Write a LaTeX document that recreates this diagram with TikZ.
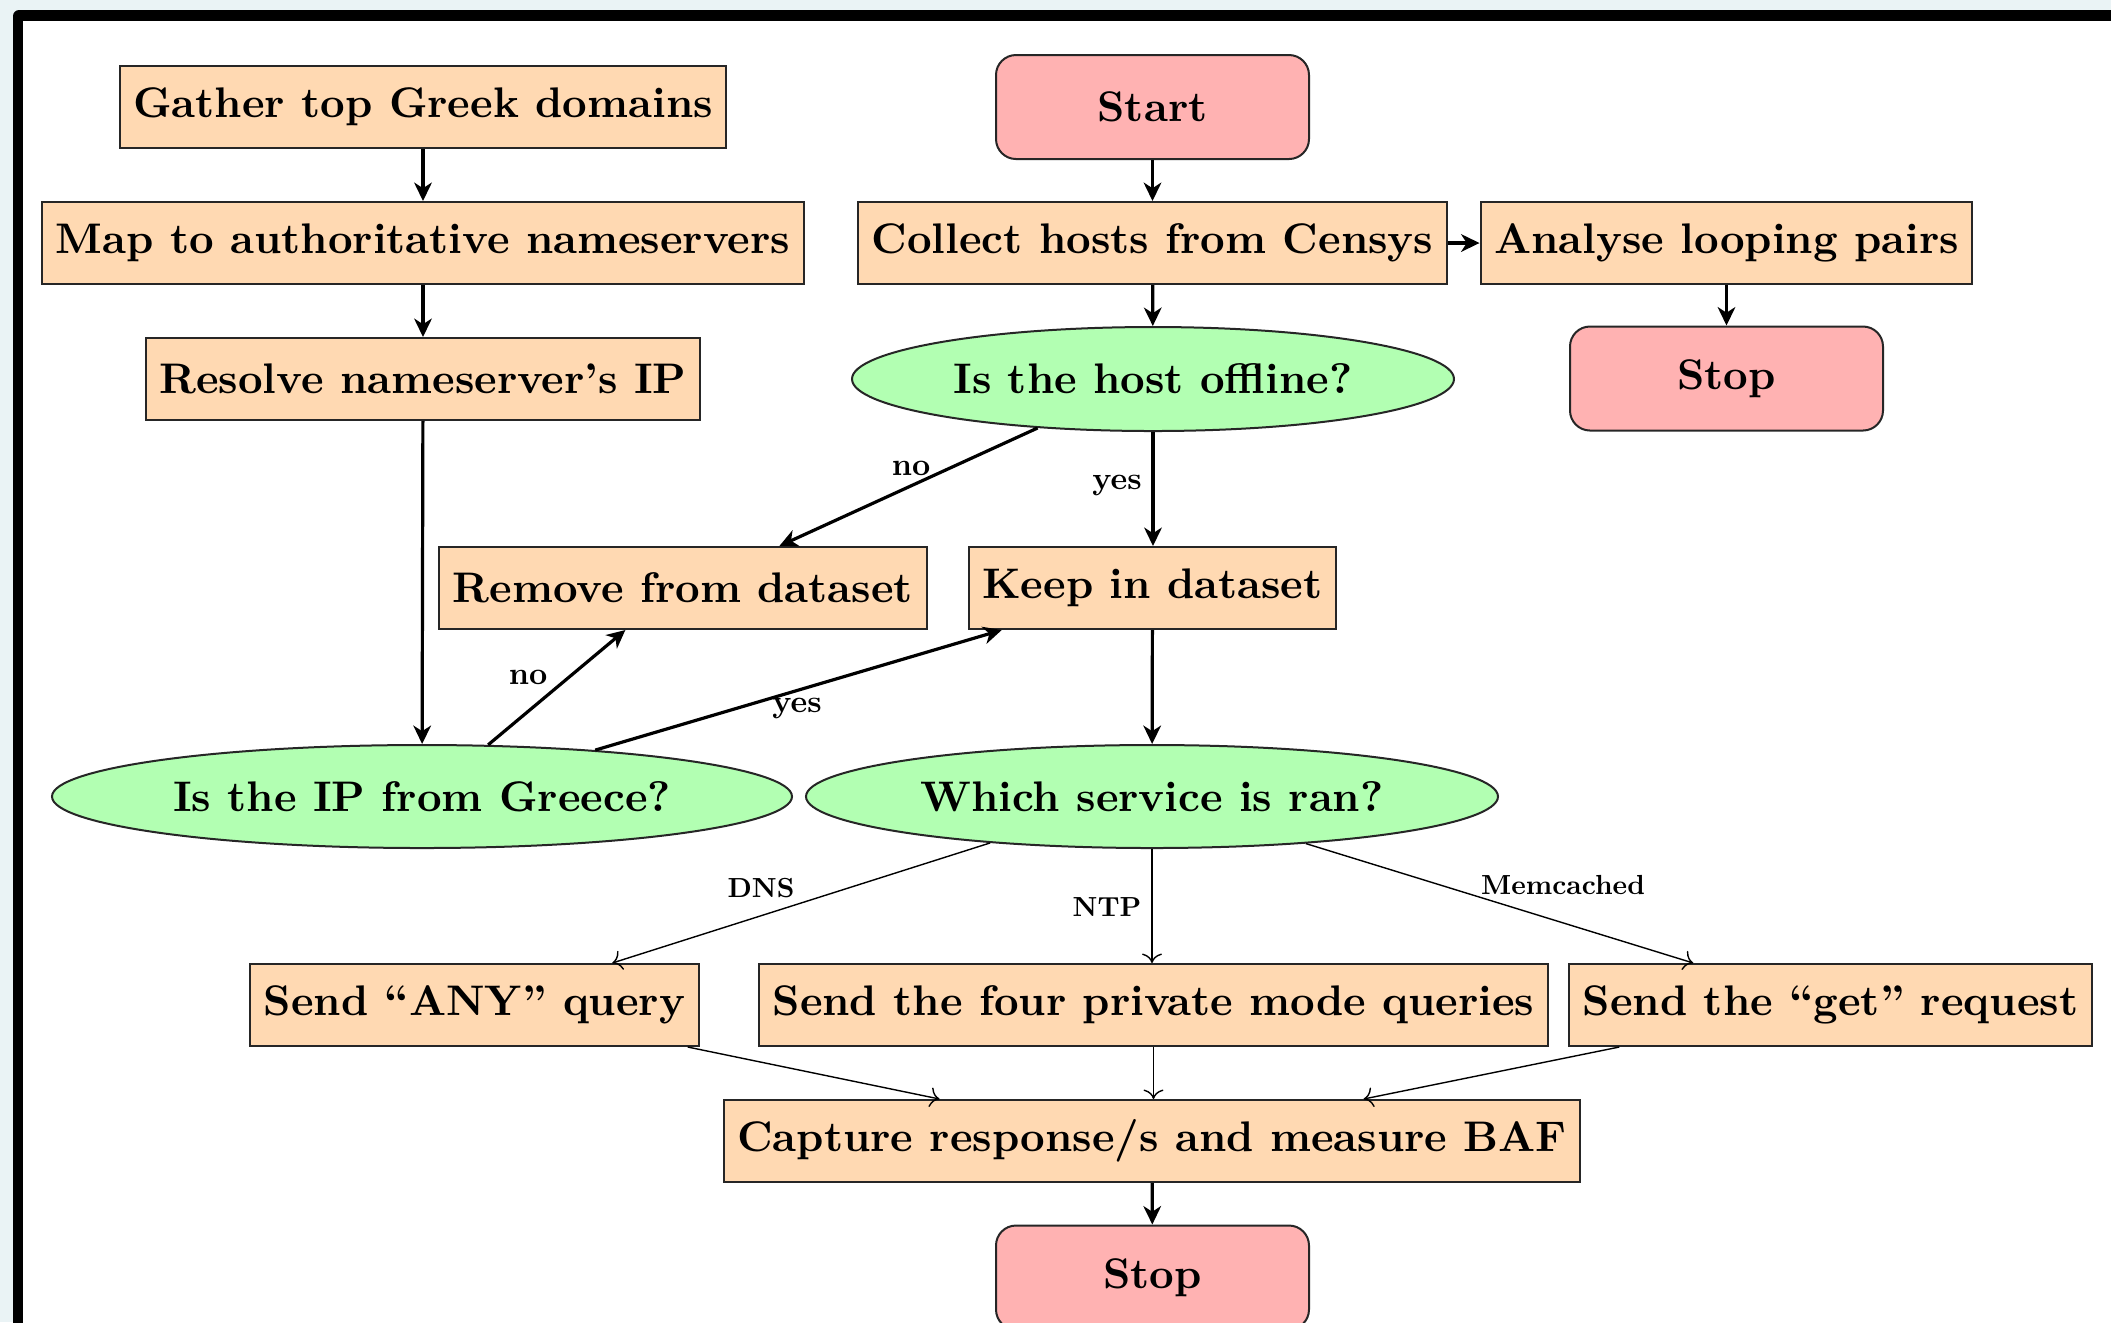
\documentclass[tikz,border=0pt]{standalone}
\usetikzlibrary{shapes.geometric,arrows.meta,calc}
\definecolor{bgc}{HTML}{EAF3F5}
\begin{document}
\begin{tikzpicture}[x=0.25pt,y=-0.25pt,
 font=\fontsize{10.7}{12.8}\selectfont\bfseries,
 proc/.style={rectangle,draw=black!85,fill=orange!30,minimum height=20.5pt,inner xsep=3.4pt,inner ysep=0pt,line width=0.5pt},
 term/.style={rectangle,rounded corners=5pt,draw=black!85,fill=red!30,minimum width=78.25pt,minimum height=26pt,line width=0.5pt},
 dec/.style={ellipse,draw=black!85,fill=green!30,inner sep=0pt,line width=0.5pt},
 arr/.style={line width=0.8pt,-{Stealth[length=4.6pt,width=4.4pt,inset=1.4pt]}},
 tarr/.style={line width=0.35pt,->},
 lab/.style={inner sep=0pt,scale=0.74},
 slab/.style={inner sep=0pt,scale=0.645}]
\useasboundingbox (0,0) rectangle (2111,1322);
\clip (0,0) rectangle (2111,1322);
\fill[bgc] (0,0) rectangle (2111,1322);
\fill[black,rounded corners=1.5pt] (13,10) rectangle (2160,1360);
\fill[white] (23,21) rectangle (2160,1360);

% nodes
\node[proc] (gather) at (423,107) {Gather top Greek domains};
\node[proc] (map) at (423,243) {Map to authoritative nameservers};
\node[proc] (resolve) at (423,379) {Resolve nameserver’s IP};
\node[term] (start) at (1152.5,107) {Start};
\node[proc] (collect) at (1152.5,243) {Collect hosts from Censys};
\node[proc] (analyse) at (1726.5,243) {Analyse looping pairs};
\node[term] (stopa) at (1726.5,378.5) {Stop};
\node[dec,minimum width=150.5pt,minimum height=26pt] (offline) at (1153,379) {Is the host offline?};
\node[proc] (remove) at (683,588) {Remove from dataset};
\node[proc] (keep) at (1152.5,588) {Keep in dataset};
\node[dec,minimum width=185pt,minimum height=25.75pt] (greece) at (422,796.5) {Is the IP from Greece?};
\node[dec,minimum width=173pt,minimum height=25.75pt] (which) at (1152,796.5) {Which service is ran?};
\node[proc] (any) at (474.5,1005) {Send “ANY” query};
\node[proc] (four) at (1153.5,1005) {Send the four private mode queries};
\node[proc] (get) at (1830.5,1005) {Send the “get” request};
\node[proc] (capture) at (1152,1141) {Capture response/s and measure BAF};
\node[term] (stopb) at (1152.5,1277.5) {Stop};

% connectors
\draw[arr] (gather) -- (map);
\draw[arr] (map) -- (resolve);
\draw[arr] (resolve) -- (greece);
\draw[arr] (start) -- (collect);
\draw[arr] (collect) -- (analyse);
\draw[arr] (analyse) -- (stopa);
\draw[arr] (collect) -- (offline);
\draw[arr] (offline.south) -- (keep.north -| offline.south);
\draw[arr] (offline.203.5) -- ([xshift=85.25pt]remove.north west);
\draw[arr] (greece.38) -- ([xshift=46.75pt]remove.south west);
\draw[arr] (greece.15.5) -- ([xshift=8.5pt]keep.south west);
\draw[arr] (keep) -- (which);
\draw[tarr] (which.196.8) -- ([xshift=90.75pt]any.north west);
\draw[tarr] (which.south) -- (four.north -| which.south);
\draw[tarr] (which.343.3) -- ([xshift=31.25pt]get.north west);
\draw[tarr] ([xshift=-3pt]any.south east) -- ([xshift=54.25pt]capture.north west);
\draw[tarr] (four.south) -- (capture.north -| four.south);
\draw[tarr] ([xshift=12.75pt]get.south west) -- ([xshift=160.25pt]capture.north west);
\draw[arr] (capture) -- (stopb);

% labels
\node[lab] (lno1) at (528,677) {no};
\node[lab] (lyes1) at (797,708) {yes};
\node[lab] (lno2) at (911,468) {no};
\node[lab] (lyes2) at (1117,485) {yes};
\node[slab] (ldns) at (761,888) {DNS};
\node[slab] (lntp) at (1107,907) {NTP};
\node[slab] (lmem) at (1563,885) {Memcached};
\end{tikzpicture}
\end{document}
